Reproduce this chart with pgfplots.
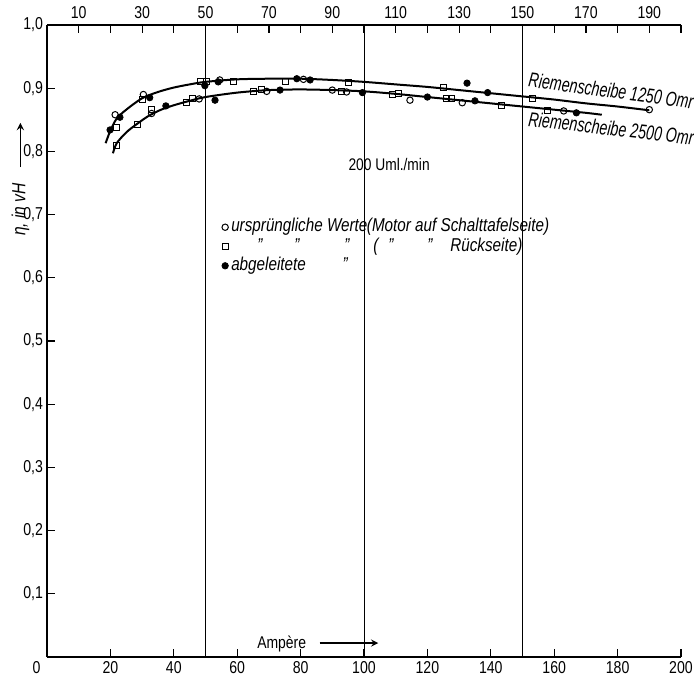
\documentclass[border=0pt]{standalone}
\usepackage{fontspec}
\setmainfont{Liberation Sans}[FakeStretch=0.82]
\newfontfamily\narrowfont{Liberation Sans}[FakeStretch=0.70]
\usepackage{pgfplots}
\pgfplotsset{compat=1.18}
\begin{document}
\begin{tikzpicture}
\pgfplotsset{
  common/.style={
    scale only axis, width=317pt, height=316pt,
    xmin=0, xmax=200, ymin=0, ymax=1,
    axis line style={-, line width=1pt, black},
    tick align=inside,
    major tick length=4pt, minor tick length=4pt,
    tick style={line width=0.6pt, black},
    tick label style={font=\fontsize{8.6}{10}\selectfont},
    /pgf/number format/assume math mode=true,
    clip=false,
  }
}
\begin{axis}[common,
  axis x line*=bottom, axis y line*=left,
  xtick={20,40,60,80,100,120,140,160,180,200},
  ytick={0.1,0.2,0.3,0.4,0.5,0.6,0.7,0.8,0.9,1.0},
  yticklabel style={xshift=1.5pt, /pgf/number format/.cd, fixed, fixed zerofill, precision=1, use comma},
  xticklabel style={yshift=1.2pt},
]
% vertical guide lines
\addplot[black, line width=0.5pt] coordinates {(50,0) (50,1)};
\addplot[black, line width=0.5pt] coordinates {(100.1,0) (100.1,1)};
\addplot[black, line width=0.5pt] coordinates {(150,0) (150,1)};
% upper curve (Riemenscheibe 1250)
\addplot[black, line width=1pt, smooth, tension=0.5] coordinates {
(18.5,0.813) (20,0.833) (22,0.852) (25,0.866) (30,0.884) (35,0.894) (40,0.901)
(45,0.906) (50,0.910) (60,0.914) (70,0.915) (80,0.915) (90,0.913) (100,0.910)
(110,0.906) (120,0.902) (130,0.897) (140,0.892) (150,0.887) (160,0.882)
(170,0.876) (180,0.871) (190,0.865)};
% lower curve (Riemenscheibe 2500)
\addplot[black, line width=1pt, smooth, tension=0.5] coordinates {
(20.8,0.797) (22,0.813) (25,0.830) (28,0.842) (32,0.856) (36,0.866) (40,0.873)
(45,0.880) (50,0.886) (60,0.893) (70,0.897) (80,0.898) (90,0.897) (100,0.895)
(110,0.891) (120,0.886) (130,0.881) (140,0.876) (150,0.871) (160,0.866)
(170,0.861) (175,0.858)};
% open circles: urspruengliche Werte
\addplot[only marks, mark=o, mark size=1.6pt, mark options={fill=white, line width=0.5pt}] coordinates {
(21.5,0.858) (30.4,0.890) (54.5,0.913) (80.9,0.914) (190,0.866)
(33,0.860) (48,0.883) (69.3,0.895) (90,0.897) (94.5,0.894) (114.5,0.881)
(131,0.877) (163,0.864) (56.2,0.680)};
% open squares: Rueckseite
\addplot[only marks, mark=square, mark size=1.5pt, mark options={fill=white, line width=0.5pt}] coordinates {
(22,0.838) (30,0.882) (48.3,0.910) (50.4,0.911) (58.8,0.910) (75.1,0.911)
(95,0.909) (125,0.901) (153,0.884)
(22,0.810) (28.4,0.842) (33,0.866) (44,0.877) (46,0.883) (65,0.895) (67.7,0.898)
(93,0.895) (109,0.890) (111,0.891) (126,0.884) (127.7,0.883) (143.5,0.872)
(158,0.864) (56.2,0.649)};
% filled dots: abgeleitete
\addplot[only marks, mark=*, mark size=1.6pt, mark options={fill=black}] coordinates {
(19.9,0.834) (23,0.854) (32.4,0.885) (49.8,0.904) (54,0.910) (78.8,0.915)
(83,0.913) (132.5,0.908) (139,0.893)
(37.5,0.872) (53,0.881) (73.5,0.897) (99.5,0.893) (120,0.886) (135,0.880)
(167,0.861) (56.2,0.619)};
% texts
\node[anchor=base west, inner sep=0pt, rotate=-7.5, font=\narrowfont\fontsize{10.2}{12}\selectfont\itshape] at (axis cs:151.6,0.902) {Riemenscheibe 1250 Omr};
\node[anchor=base west, inner sep=0pt, rotate=-6.5, font=\narrowfont\fontsize{10.2}{12}\selectfont\itshape] at (axis cs:151.6,0.840) {Riemenscheibe 2500 Omr};
\node[anchor=base west, font=\fontsize{8.4}{10}\selectfont, inner sep=0pt] at (axis cs:95,0.769) {200 Uml./min};
\begin{scope}[every node/.style={anchor=base west, inner sep=0pt, font=\fontsize{9.3}{11}\selectfont\itshape}]
\node at (axis cs:58.0,0.674) {ursprüngliche Werte};
\node at (axis cs:100.8,0.674) {(Motor auf Schalttafelseite)};
\node at (axis cs:66.2,0.642) {”};
\node at (axis cs:77.9,0.642) {”};
\node at (axis cs:93.7,0.642) {”};
\node at (axis cs:102.8,0.642) {(};
\node at (axis cs:107.6,0.642) {”};
\node at (axis cs:119.9,0.642) {”};
\node at (axis cs:127.1,0.642) {Rückseite)};
\node at (axis cs:58.0,0.612) {abgeleitete};
\node at (axis cs:93.1,0.612) {”};
\end{scope}
\node[anchor=base west, inner sep=0pt, font=\fontsize{8.5}{10}\selectfont] at (axis cs:66.2,0.014) {Ampère};
\draw[-stealth, line width=0.6pt] (axis cs:86,0.022) -- (axis cs:104.5,0.022);
\node[font=\fontsize{8.6}{10}\selectfont] at (axis cs:-3.3,-0.017) {0};
\node[rotate=90, font=\fontsize{9.5}{11}\selectfont\itshape] at (axis cs:-8.4,0.708) {η, in vH};
\draw[-stealth, line width=0.6pt] (axis cs:-8.4,0.775) -- (axis cs:-8.4,0.845);
\end{axis}
\begin{axis}[common,
  axis x line*=top, axis y line=none,
  xtick={10,30,50,70,90,110,130,150,170,190},
  minor xtick={20,40,60,80,100,120,140,160,180,200},
  xticklabel style={yshift=-0.5pt},
]
\end{axis}
\pgfresetboundingbox
\useasboundingbox (-23.5pt,-10.5pt) rectangle (323.5pt,328.5pt);
\end{tikzpicture}
\end{document}
